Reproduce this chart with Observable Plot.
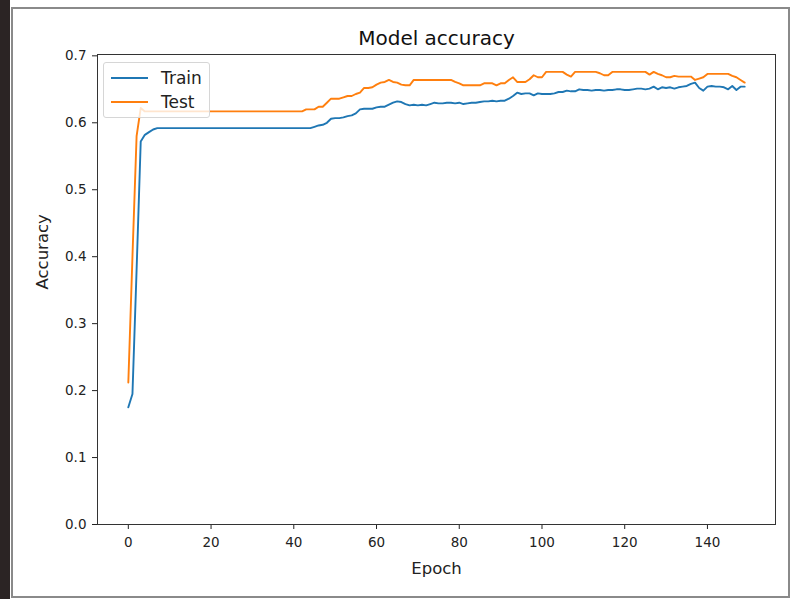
<!DOCTYPE html>
<html>
<head>
<meta charset="utf-8">
<script src="https://cdn.jsdelivr.net/npm/d3@7"></script>
<script src="https://cdn.jsdelivr.net/npm/@observablehq/plot@0.6"></script>
<style>
  html, body { margin: 0; padding: 0; background: #fff; }
  #wrap { position: relative; width: 790px; height: 599px; overflow: hidden; font-family: "DejaVu Sans", sans-serif; }
  #strip { position: absolute; left: 0; top: 0; width: 10px; height: 599px; background: #2b2424; }
  #border { position: absolute; left: 11px; top: 7px; width: 775px; height: 587px; border: 2px solid #8a8a8a; box-sizing: content-box; pointer-events: none; }
  #chart { position: absolute; left: 0; top: 0; }
  #legend { position: absolute; left: 103px; top: 62px; width: 107px; height: 56px; background: rgba(255,255,255,0.8); border: 1px solid #d6d6d6; border-radius: 3px; box-sizing: border-box; }
  .item { position: absolute; left: 7px; height: 20px; display: flex; align-items: center; font-size: 17px; color: #222; }
  .swatch { width: 37px; height: 2px; margin-right: 13px; }
</style>
</head>
<body>
<div id="wrap">
  <div id="strip"></div>
  <div id="chart"></div>
  <div id="border"></div>
  <div id="legend"></div>
</div>
<script>
const title = "Model accuracy";
const xLabel = "Epoch";
const yLabel = "Accuracy";
const seriesNames = ["Train", "Test"];
const seriesColors = ["#1f77b4", "#ff7f0e"];
const xTicks = [0, 20, 40, 60, 80, 100, 120, 140];
const yTicks = [0.0, 0.1, 0.2, 0.3, 0.4, 0.5, 0.6, 0.7];

const trainAcc = [
  0.175,0.195,0.380,0.572,0.582,0.586,0.590,0.592,0.592,0.592,
  0.592,0.592,0.592,0.592,0.592,0.592,0.592,0.592,0.592,0.592,
  0.592,0.592,0.592,0.592,0.592,0.592,0.592,0.592,0.592,0.592,
  0.592,0.592,0.592,0.592,0.592,0.592,0.592,0.592,0.592,0.592,
  0.592,0.592,0.592,0.592,0.592,0.594,0.596,0.597,0.600,0.606,
  0.607,0.607,0.608,0.610,0.611,0.614,0.620,0.621,0.621,0.621,
  0.623,0.624,0.624,0.627,0.630,0.632,0.631,0.628,0.626,0.627,
  0.626,0.627,0.626,0.628,0.630,0.629,0.629,0.630,0.630,0.629,
  0.630,0.628,0.629,0.630,0.630,0.631,0.632,0.632,0.633,0.632,
  0.633,0.633,0.636,0.640,0.645,0.643,0.644,0.644,0.641,0.644,
  0.643,0.643,0.643,0.644,0.646,0.646,0.648,0.647,0.647,0.650,
  0.649,0.649,0.648,0.649,0.649,0.648,0.649,0.649,0.650,0.650,
  0.649,0.649,0.650,0.651,0.651,0.650,0.651,0.654,0.650,0.653,
  0.652,0.653,0.651,0.653,0.654,0.655,0.658,0.660,0.652,0.648,
  0.654,0.655,0.654,0.654,0.653,0.650,0.655,0.649,0.654,0.654
];

const testAcc = [
  0.212,0.400,0.580,0.622,0.617,0.617,0.617,0.617,0.617,0.617,
  0.617,0.617,0.617,0.617,0.617,0.617,0.617,0.617,0.617,0.617,
  0.617,0.617,0.617,0.617,0.617,0.617,0.617,0.617,0.617,0.617,
  0.617,0.617,0.617,0.617,0.617,0.617,0.617,0.617,0.617,0.617,
  0.617,0.617,0.617,0.620,0.620,0.620,0.624,0.624,0.630,0.636,
  0.636,0.636,0.638,0.640,0.640,0.643,0.645,0.652,0.652,0.653,
  0.657,0.660,0.661,0.664,0.661,0.660,0.657,0.656,0.656,0.664,
  0.664,0.664,0.664,0.664,0.664,0.664,0.664,0.664,0.664,0.661,
  0.659,0.656,0.656,0.656,0.656,0.656,0.659,0.659,0.659,0.656,
  0.659,0.659,0.664,0.668,0.661,0.661,0.661,0.665,0.671,0.668,
  0.668,0.676,0.676,0.676,0.676,0.676,0.672,0.669,0.676,0.676,
  0.676,0.676,0.676,0.676,0.674,0.671,0.671,0.676,0.676,0.676,
  0.676,0.676,0.676,0.676,0.676,0.676,0.672,0.676,0.673,0.671,
  0.668,0.668,0.670,0.669,0.669,0.669,0.669,0.664,0.666,0.668,
  0.673,0.673,0.673,0.673,0.673,0.673,0.670,0.668,0.664,0.660
];

const rows = [];
[trainAcc, testAcc].forEach((arr, si) => arr.forEach((v, i) => rows.push({epoch: i, acc: v, series: seriesNames[si]})));

const font = "DejaVu Sans";
const chart = Plot.plot({
  width: 790,
  height: 599,
  marginLeft: 97,
  marginRight: 15,
  marginTop: 54,
  marginBottom: 75,
  style: {fontFamily: font, color: "#222", background: "transparent"},
  x: {domain: [-7.45, 156.45]},
  y: {domain: [0, 0.702]},
  color: {domain: seriesNames, range: seriesColors},
  marks: [
    Plot.axisX({ticks: xTicks, tickSize: 5, tickPadding: 8, fontSize: 13.5, label: null, stroke: "#222"}),
    Plot.axisY({ticks: yTicks, tickFormat: d3.format(".1f"), tickSize: 5, tickPadding: 6, fontSize: 13.5, label: null, stroke: "#222"}),
    Plot.line(rows, {x: "epoch", y: "acc", z: "series", stroke: "series", strokeWidth: 1.9}),
    Plot.frame({stroke: "#333", strokeWidth: 1}),
    Plot.text([title], {frameAnchor: "top", lineAnchor: "middle", dy: -16, fontSize: 20, fill: "#111"}),
    Plot.text([xLabel], {frameAnchor: "bottom", lineAnchor: "middle", dy: 44, fontSize: 16.5, fill: "#222"}),
    Plot.text([yLabel], {frameAnchor: "left", dx: -55, rotate: -90, fontSize: 16.5, fill: "#222"})
  ]
});
document.getElementById("chart").appendChild(chart);

const legend = document.getElementById("legend");
seriesNames.forEach((name, i) => {
  const item = document.createElement("div");
  item.className = "item";
  item.style.top = (5 + i * 24) + "px";
  const sw = document.createElement("span");
  sw.className = "swatch";
  sw.style.background = seriesColors[i];
  item.appendChild(sw);
  item.appendChild(document.createTextNode(name));
  legend.appendChild(item);
});
</script>
</body>
</html>
